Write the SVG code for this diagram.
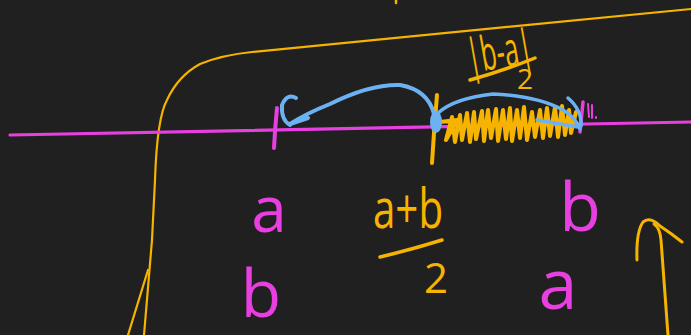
<svg xmlns="http://www.w3.org/2000/svg" width="691" height="335" viewBox="0 0 691 335">
<style>
.y{fill:none;stroke:#f6b400;stroke-linecap:round;stroke-linejoin:round}
.m{fill:none;stroke:#e83fe0;stroke-linecap:round;stroke-linejoin:round}
.b{fill:none;stroke:#6cb2f2;stroke-linecap:round;stroke-linejoin:round}
.t{font-family:"Open Sans","Noto Sans","Liberation Sans",sans-serif;font-weight:400;text-anchor:middle}
.ty{fill:#f6b400}
.tm{fill:#e83fe0}
</style>
<rect width="691" height="335" fill="#202020"/>
<g id="frame">
<path class="y" stroke-width="2.2" d="M144,335 L152,240 L155,180 Q157,118 167,100 Q178,76 200,64 Q222,55 252,52 L691,9"/>
<path class="y" stroke-width="2.2" d="M148,270 L128,335"/>
<path class="y" stroke-width="2.5" d="M396,0 L396,3"/>
<path class="y" stroke-width="3" d="M637,260 Q636,232 643,222 Q650,216 660,226 Q672,234 682,242"/>
<path class="y" stroke-width="3" d="M654,224 Q660,228 661,240 L668,335"/>
</g>
<g id="axis">
<path class="m" stroke-width="3.2" d="M10,135 L691,122"/>
<path class="m" stroke-width="4" d="M277,108 Q275,128 274,148"/>
<path class="m" stroke-width="3.5" d="M583,102 L580,132"/>
<path class="m" stroke-width="2" d="M588,104 L589,117 M592,105 L592,118 M596,117 L596,118"/>
</g>
<g id="midpoint">
<path class="y" stroke-width="4" d="M437,95 Q434,130 432,163"/>
<polyline class="y" stroke-width="4" points="440,122 457,120 446,140 452,117 455,142 460,115 462,140 467,113 470,142 474,112 476,139 482,111 484,141 488,110 491,138 496,109 498,141 503,110 506,139 510,108 512,141 517,110 520,138 524,107 527,140 532,112 535,137 540,110 543,138 547,108 550,136 555,107 558,137 562,106 565,135 569,110 571,133 576,112"/>
</g>
<g id="connectors">
<ellipse cx="436" cy="122" rx="6" ry="11" fill="#6cb2f2"/>
<path class="b" stroke-width="4" d="M434,114 Q428,90 400,85 Q370,84 330,104 Q305,114 290,124"/>
<path class="b" stroke-width="4" d="M290,124 L308,118 M296,98 Q287,93 282,105 Q281,120 290,125"/>
<path class="b" stroke-width="3.5" d="M438,113 Q455,98 493,94 Q537,96 563,110 Q576,118 580,129"/>
<path class="b" stroke-width="3.5" d="M537,120 L578,127 M568,98 Q582,110 581,126"/>
</g>
<g id="labels">
<text class="t tm" x="269" y="232" font-size="64">a</text>
<text class="t tm" x="261" y="317" font-size="66">b</text>
<text class="t tm" x="580" y="231" font-size="68">b</text>
<text class="t tm" x="558" y="309" font-size="70">a</text>
<text class="t ty" x="408" y="228" font-size="54" textLength="70" lengthAdjust="spacingAndGlyphs">a+b</text>
<path class="y" stroke-width="3.5" d="M380,257 Q410,250 442,240"/>
<text class="t ty" x="436" y="293" font-size="42">2</text>
<text class="t ty" x="500" y="68" font-size="48" textLength="66" lengthAdjust="spacingAndGlyphs" transform="rotate(-10 500 55)">|b-a|</text>
<path class="y" stroke-width="3.5" d="M470,80 Q500,72 535,58"/>
<text class="t ty" x="525" y="89" font-size="28">2</text>
</g>
</svg>
